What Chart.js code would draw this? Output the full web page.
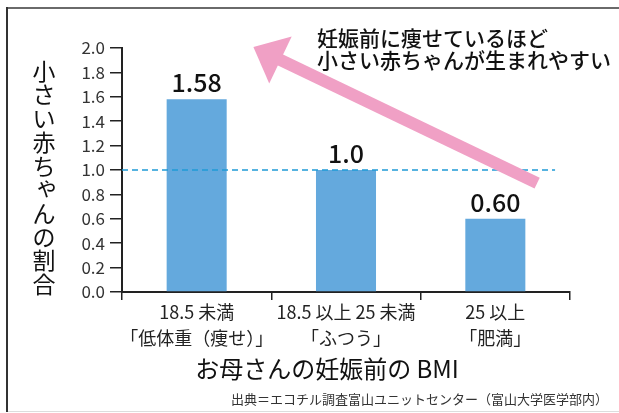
<!DOCTYPE html>
<html>
<head>
<meta charset="utf-8">
<script src="https://cdn.jsdelivr.net/npm/chart.js@4"></script>
<style>
  body { margin: 0; background: #fff; }
  canvas { display: block; }
</style>
</head>
<body>
<canvas id="bmiChart" width="619" height="413"></canvas>
<script>
// data
var categories = [
    ['18.5 未満', '「低体重（痩せ）」'],
    ['18.5 以上 25 未満', '「ふつう」'],
    ['25 以上', '「肥満」']
];
var ratios = [1.58, 1.0, 0.60];
var ratioLabels = ['1.58', '1.0', '0.60'];
var refValue = 1.0;
var yTicks = [0, 0.2, 0.4, 0.6, 0.8, 1.0, 1.2, 1.4, 1.6, 1.8, 2.0];

var yTitle = '小さい赤ちゃんの割合';
var xTitle = 'お母さんの妊娠前の BMI';
var noteLines = ['妊娠前に痩せているほど', '小さい赤ちゃんが生まれやすい'];
var sourceText = '出典＝エコチル調査富山ユニットセンター（富山大学医学部内）';

var jpFont = '"Noto Sans CJK JP", "Noto Sans", sans-serif';

/**
 *  Draws the frame, dashed reference line, arrow, value labels and titles.
 */
var extrasPlugin = {
    id: 'extras',
    beforeDraw: function(chart) {
        const ctx = chart.ctx;
        ctx.save();
        ctx.fillStyle = '#fff';
        ctx.fillRect(0, 0, chart.width, chart.height);
        ctx.strokeStyle = '#ddd';
        ctx.lineWidth = 1;
        ctx.beginPath();
        ctx.moveTo(7, 411.5);
        ctx.lineTo(chart.width, 411.5);
        ctx.stroke();
        ctx.strokeStyle = '#6a6a6a';
        ctx.lineWidth = 2;
        ctx.beginPath();
        ctx.moveTo(6, 8);
        ctx.lineTo(chart.width, 8);
        ctx.stroke();
        ctx.strokeStyle = '#333';
        ctx.beginPath();
        ctx.moveTo(7, 7);
        ctx.lineTo(7, 412);
        ctx.stroke();
        ctx.restore();
    },
    afterDatasetsDraw: function(chart) {
        const ctx = chart.ctx;
        const x = chart.scales.x;
        const y = chart.scales.y;
        ctx.save();

        // reference line at 1.0
        ctx.strokeStyle = '#1f9ad6';
        ctx.lineWidth = 1.5;
        ctx.setLineDash([6, 4]);
        ctx.beginPath();
        ctx.moveTo(chart.chartArea.left, y.getPixelForValue(refValue));
        ctx.lineTo(x.getPixelForValue(2.4), y.getPixelForValue(refValue));
        ctx.stroke();
        ctx.setLineDash([]);

        // value labels
        const meta = chart.getDatasetMeta(0);
        ctx.fillStyle = '#111';
        ctx.font = '500 25px ' + jpFont;
        ctx.textAlign = 'center';
        ctx.textBaseline = 'alphabetic';
        meta.data.forEach(function(bar, i) {
            ctx.fillText(ratioLabels[i], bar.x, bar.y - 7);
        });

        // pink arrow
        const x0 = x.getPixelForValue(2.28), y0 = y.getPixelForValue(0.893);
        const x1 = x.getPixelForValue(0.38), y1 = y.getPixelForValue(2.008);
        const ang = Math.atan2(y1 - y0, x1 - x0);
        const headLen = 30, headHalf = 26;
        const bx = x1 - Math.cos(ang) * headLen, by = y1 - Math.sin(ang) * headLen;
        ctx.strokeStyle = '#f0a0c5';
        ctx.fillStyle = '#f0a0c5';
        ctx.lineWidth = 12;
        ctx.lineCap = 'butt';
        ctx.beginPath();
        ctx.moveTo(x0, y0);
        ctx.lineTo(bx + Math.cos(ang) * 4, by + Math.sin(ang) * 4);
        ctx.stroke();
        ctx.beginPath();
        ctx.moveTo(x1, y1);
        ctx.lineTo(bx - Math.sin(ang) * headHalf, by + Math.cos(ang) * headHalf);
        ctx.lineTo(bx + Math.sin(ang) * headHalf, by - Math.cos(ang) * headHalf);
        ctx.closePath();
        ctx.fill();

        // note
        ctx.fillStyle = '#111';
        ctx.font = '500 21px ' + jpFont;
        ctx.textAlign = 'left';
        ctx.textBaseline = 'middle';
        ctx.fillText(noteLines[0], 317, 38);
        ctx.fillText(noteLines[1], 317, 60);

        // y title, vertical
        ctx.font = '23px ' + jpFont;
        ctx.textAlign = 'center';
        const chars = Array.from(yTitle);
        chars.forEach(function(c, i) {
            let cx = 44, cy = 71 + i * 23.7;
            if ('ゃゅょっ'.indexOf(c) >= 0) { cx += 3; cy -= 3; }
            ctx.fillText(c, cx, cy);
        });

        // x title
        ctx.font = '24px ' + jpFont;
        ctx.fillText(xTitle, 327, 369);

        // source
        ctx.fillStyle = '#333';
        ctx.font = '13px ' + jpFont;
        ctx.textAlign = 'right';
        ctx.fillText(sourceText, 608, 399);
        ctx.restore();
    }
};

var bmiChart = new Chart(document.getElementById('bmiChart').getContext('2d'), {
    type: 'bar',
    data: {
        labels: categories,
        datasets: [{
            label: '小さい赤ちゃんの割合',
            data: ratios,
            backgroundColor: '#64a9dd',
            borderWidth: 0,
            categoryPercentage: 1,
            barPercentage: 0.402
        }]
    },
    options: {
        responsive: false,
        animation: false,
        layout: { padding: { left: 0, top: 48, right: 49, bottom: 0 } },
        plugins: {
            legend: { display: false },
            tooltip: { enabled: false }
        },
        scales: {
            x: {
                offset: true,
                grid: {
                    offset: true,
                    drawOnChartArea: false,
                    drawTicks: true,
                    tickLength: 8,
                    color: '#222',
                    lineWidth: 1.5
                },
                border: { display: true, color: '#222', width: 2 },
                ticks: {
                    color: '#222',
                    padding: 0,
                    maxRotation: 0,
                    autoSkip: false,
                    font: { family: jpFont, size: 18, lineHeight: 1.4 }
                },
                afterFit: function(scale) { scale.height = 121; }
            },
            y: {
                min: 0,
                max: 2,
                afterBuildTicks: function(scale) {
                    scale.ticks = yTicks.map(function(v) { return { value: v }; });
                },
                grid: {
                    drawOnChartArea: false,
                    drawTicks: true,
                    tickLength: 12,
                    color: '#222',
                    lineWidth: 1.5
                },
                border: { display: true, color: '#222', width: 2 },
                ticks: {
                    color: '#333',
                    padding: 5,
                    font: { family: jpFont, size: 17 },
                    callback: function(v) { return Number(v).toFixed(1); }
                },
                afterFit: function(scale) { scale.width = 122; }
            }
        }
    },
    plugins: [extrasPlugin]
});
</script>
</body>
</html>
